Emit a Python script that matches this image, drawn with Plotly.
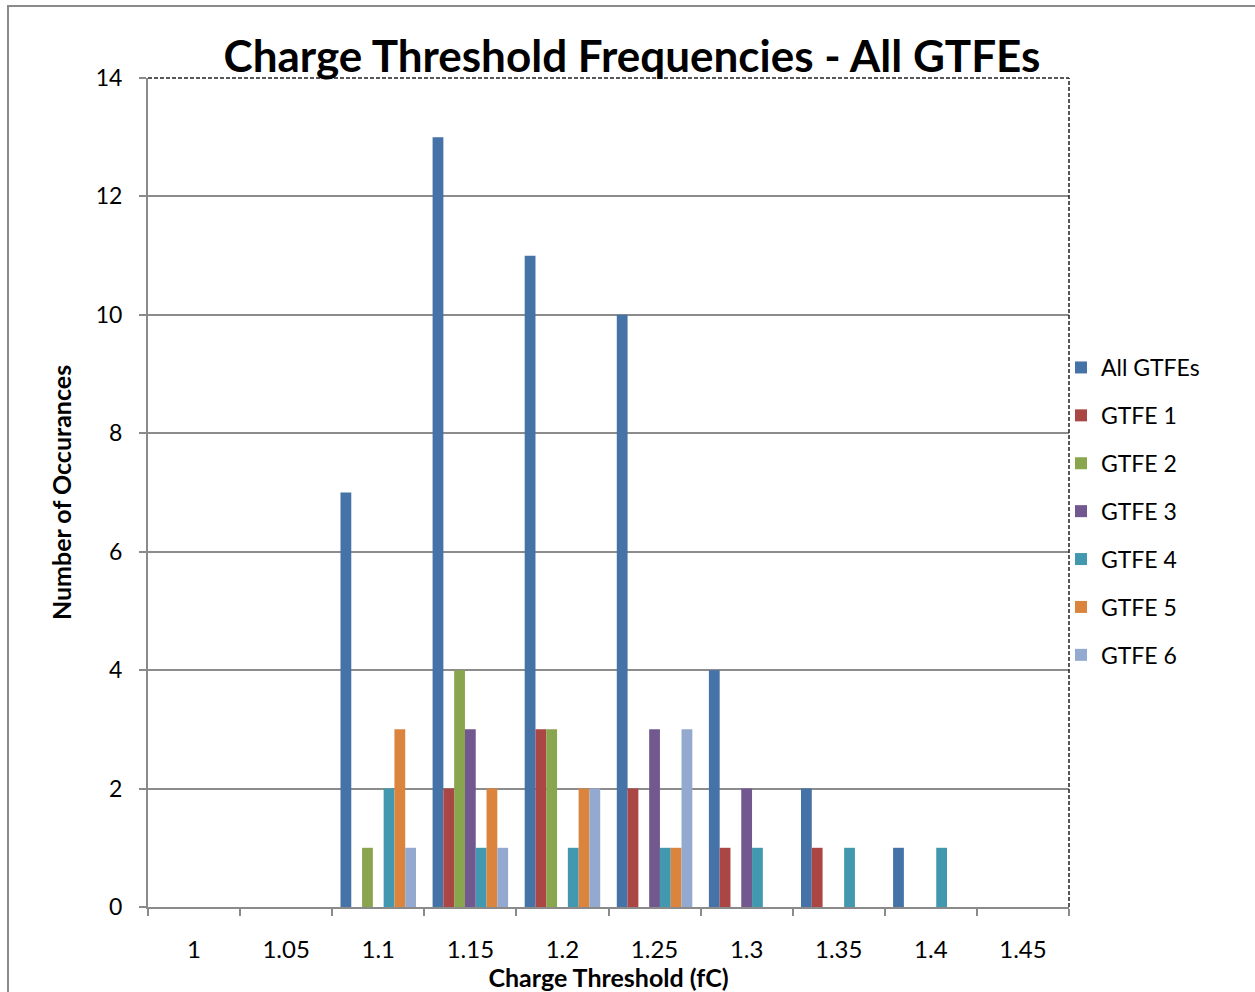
import plotly.graph_objects as go

# Charge threshold bins (fC) and occurrence counts per front-end
thresholds = ["1", "1.05", "1.1", "1.15", "1.2", "1.25", "1.3", "1.35", "1.4", "1.45"]
all_gtfes = [0, 0, 7, 13, 11, 10, 4, 2, 1, 0]
gtfe_1 = [0, 0, 0, 2, 3, 2, 1, 1, 0, 0]
gtfe_2 = [0, 0, 1, 4, 3, 0, 0, 0, 0, 0]
gtfe_3 = [0, 0, 0, 3, 0, 3, 2, 0, 0, 0]
gtfe_4 = [0, 0, 2, 1, 1, 1, 1, 1, 1, 0]
gtfe_5 = [0, 0, 3, 2, 2, 1, 0, 0, 0, 0]
gtfe_6 = [0, 0, 1, 1, 2, 3, 0, 0, 0, 0]

series_names = ["All GTFEs", "GTFE 1", "GTFE 2", "GTFE 3", "GTFE 4", "GTFE 5", "GTFE 6"]
series_values = [all_gtfes, gtfe_1, gtfe_2, gtfe_3, gtfe_4, gtfe_5, gtfe_6]
series_colors = ["#4572A7", "#AA4643", "#89A54E", "#71588F", "#4198AF", "#DB843D", "#93A9CF"]

FONT = "Lato"

fig = go.Figure()
for i, (name, vals, col) in enumerate(zip(series_names, series_values, series_colors)):
    fig.add_trace(go.Bar(
        x=thresholds, y=vals, name=name,
        marker=dict(color=col, line=dict(width=0)),
        legendgroup=f"g{i}",
    ))

# plot area in pixels: x 148..1069, y 78..907
L, R, T, B = 148, 1069, 78, 907
W, H = 1255, 992
pw, ph = R - L, B - T

def px_x(x):
    return (x - L) / pw

def px_y(y):
    return (B - y) / ph

shapes = [
    # outer chart frame
    dict(type="rect", xref="paper", yref="paper",
         x0=px_x(8), x1=px_x(1262), y0=px_y(1000), y1=px_y(6),
         line=dict(color="#8a8a8a", width=2), fillcolor="rgba(0,0,0,0)", layer="below"),
    # dashed plot-area border (top and right)
    dict(type="line", xref="paper", yref="paper", x0=0, x1=1, y0=1, y1=1,
         line=dict(color="#222222", width=1.5, dash="4px,2px")),
    dict(type="line", xref="paper", yref="paper", x0=1, x1=1, y0=0, y1=1,
         line=dict(color="#222222", width=1.5, dash="4px,2px")),
]

fig.update_layout(
    width=W, height=H,
    margin=dict(l=L, r=W - R, t=T, b=H - B, autoexpand=False),
    paper_bgcolor="white", plot_bgcolor="white",
    barmode="group", bargap=0.18, bargroupgap=0,
    font=dict(family=FONT, color="black"),
    title=dict(text="<b>Charge Threshold Frequencies - All GTFEs</b>",
               font=dict(family=FONT, size=44, color="black"),
               x=632 / W, xanchor="center",
               y=1 - 57 / H, yanchor="middle"),
    xaxis=dict(
        type="category", tickson="boundaries", automargin=False,
        ticks="outside", ticklen=7, tickwidth=2, tickcolor="#8a8a8a",
        showline=True, linecolor="#8a8a8a", linewidth=2,
        showgrid=False, zeroline=False,
        tickfont=dict(family=FONT, size=24, color="black"),
        ticklabelstandoff=20,
        title=dict(text="<b>Charge Threshold (fC)</b>",
                   font=dict(family=FONT, size=25, color="black"), standoff=0),
    ),
    yaxis=dict(
        range=[0, 14], dtick=2, tick0=0, automargin=False,
        ticks="outside", ticklen=7, tickwidth=2, tickcolor="#8a8a8a",
        showline=True, linecolor="#8a8a8a", linewidth=2,
        showgrid=True, gridcolor="#8c8c8c", gridwidth=2,
        zeroline=False,
        tickfont=dict(family=FONT, size=23, color="black"),
        ticklabelstandoff=12,
        title=dict(text="<b>Number of Occurances</b>",
                   font=dict(family=FONT, size=25, color="black"), standoff=17),
    ),
    legend=dict(
        x=px_x(1061), xanchor="left", y=px_y(346), yanchor="top",
        font=dict(family=FONT, size=23, color="black"),
        tracegroupgap=15, itemwidth=30,
        bgcolor="rgba(0,0,0,0)",
    ),
    shapes=shapes,
)

fig.write_html("out.html")
